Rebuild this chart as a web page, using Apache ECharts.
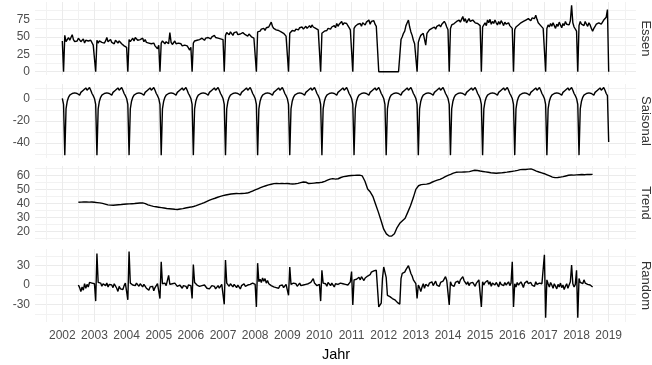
<!DOCTYPE html>
<html>
<head>
<meta charset="utf-8">
<script src="https://cdn.jsdelivr.net/npm/echarts@6/dist/echarts.min.js"></script>
<style>
  html, body { margin: 0; background: #fff; }
  #chart { width: 652px; height: 365px; }
</style>
</head>
<body>
<div id="chart"></div>
<script>
// panel (strip) names, top to bottom
const panelNames = ['Essen', 'Saisonal', 'Trend', 'Random']

// time grid of the series: 26 values per year, trend monthly
const halfMonthStep = 1 / 26
const monthStep = 1 / 12
const essenStart = 2002
const saisonalStart = 2002
const trendStart = 2002.5
const randomStart = 2002.5

// Essen, one row per year (26 values), last value = start of 2019
const essen = [
  44, 0, 52, 43, 46, 49, 45, 47, 53, 46, 43, 45, 44, 48, 49, 43, 45, 47, 41, 45, 47, 44, 42, 45, 43, 38,
  40, 0, 45, 41, 44, 46, 42, 43, 41, 44, 49, 43, 41, 46, 42, 44, 40, 45, 43, 41, 44, 42, 40, 38, 37, 36,
  35, 0, 46, 43, 45, 48, 44, 49, 47, 45, 43, 46, 44, 48, 43, 46, 42, 44, 41, 43, 40, 38, 41, 37, 39, 33,
  38, 0, 41, 44, 42, 40, 43, 41, 40, 56, 42, 39, 41, 44, 40, 38, 41, 39, 40, 37, 39, 38, 36, 37, 34, 31,
  35, 0, 41, 44, 42, 45, 43, 46, 44, 48, 47, 45, 48, 46, 49, 51, 47, 50, 48, 52, 49, 51, 48, 50, 47, 48,
  46, 0, 52, 56, 54, 53, 57, 55, 52, 56, 54, 57, 53, 55, 54, 52, 56, 54, 53, 55, 51, 54, 52, 50, 51, 48,
  47, 0, 57, 59, 58, 61, 60, 62, 59, 63, 61, 64, 66, 71, 65, 62, 64, 60, 62, 59, 61, 57, 58, 55, 54, 51,
  50, 0, 55, 57, 59, 60, 58, 61, 62, 60, 63, 62, 64, 61, 63, 65, 62, 64, 66, 63, 67, 64, 65, 62, 61, 60,
  58, 0, 55, 57, 58, 60, 59, 62, 63, 61, 64, 62, 66, 63, 69, 65, 68, 66, 72, 67, 70, 68, 69, 66, 63, 60,
  58, 0, 62, 65, 64, 68, 66, 69, 65, 70, 72, 67, 71, 69, 74, 68, 72, 70, 73, 68, 65, 64, 0, 0, 0, 0,
  0, 0, 0, 0, 0, 0, 0, 0, 0, 0, 0, 0, 0, 0, 46, 50, 55, 58, 66, 70, 74, 64, 57, 52, 45, 40,
  38, 0, 42, 48, 52, 50, 55, 53, 38, 55, 57, 60, 58, 62, 60, 64, 61, 65, 63, 67, 64, 68, 66, 72, 69, 64,
  60, 0, 62, 67, 65, 69, 67, 72, 70, 74, 71, 73, 79, 72, 76, 70, 73, 76, 72, 70, 74, 72, 70, 72, 69, 70,
  66, 0, 64, 67, 70, 66, 74, 70, 75, 68, 72, 69, 74, 70, 67, 72, 68, 73, 70, 66, 71, 68, 67, 70, 66, 64,
  62, 0, 60, 64, 62, 67, 65, 70, 68, 72, 70, 74, 72, 76, 74, 73, 77, 79, 76, 81, 75, 70, 72, 66, 64, 62,
  60, 0, 62, 67, 64, 69, 65, 70, 66, 62, 68, 65, 71, 67, 63, 69, 66, 72, 68, 70, 67, 73, 95, 70, 64, 62,
  58, 0, 66, 72, 68, 70, 66, 72, 68, 65, 70, 67, 62, 58, 62, 65, 68, 66, 70, 72, 68, 71, 74, 72, 78, 89,
  0
]

// Saisonal (periodic component), one row per year
const saisonal = [
  0.5, -5, -51, -9, -2, 1.5, 3.5, 4, 5, 4.5, 5.5, 4.5, 5, 4, 3.5, 6, 7.5, 8, 9.5, 10, 8, 8.5, 10.5, 8, 5, 3,
  0.5, -5, -51, -9, -2, 1.5, 3.5, 4, 5, 4.5, 5.5, 4.5, 5, 4, 3.5, 6, 7.5, 8, 9.5, 10, 8, 8.5, 10.5, 8, 5, 3,
  0.5, -5, -51, -9, -2, 1.5, 3.5, 4, 5, 4.5, 5.5, 4.5, 5, 4, 3.5, 6, 7.5, 8, 9.5, 10, 8, 8.5, 10.5, 8, 5, 3,
  0.5, -5, -51, -9, -2, 1.5, 3.5, 4, 5, 4.5, 5.5, 4.5, 5, 4, 3.5, 6, 7.5, 8, 9.5, 10, 8, 8.5, 10.5, 8, 5, 3,
  0.5, -5, -51, -9, -2, 1.5, 3.5, 4, 5, 4.5, 5.5, 4.5, 5, 4, 3.5, 6, 7.5, 8, 9.5, 10, 8, 8.5, 10.5, 8, 5, 3,
  0.5, -5, -51, -9, -2, 1.5, 3.5, 4, 5, 4.5, 5.5, 4.5, 5, 4, 3.5, 6, 7.5, 8, 9.5, 10, 8, 8.5, 10.5, 8, 5, 3,
  0.5, -5, -51, -9, -2, 1.5, 3.5, 4, 5, 4.5, 5.5, 4.5, 5, 4, 3.5, 6, 7.5, 8, 9.5, 10, 8, 8.5, 10.5, 8, 5, 3,
  0.5, -5, -51, -9, -2, 1.5, 3.5, 4, 5, 4.5, 5.5, 4.5, 5, 4, 3.5, 6, 7.5, 8, 9.5, 10, 8, 8.5, 10.5, 8, 5, 3,
  0.5, -5, -51, -9, -2, 1.5, 3.5, 4, 5, 4.5, 5.5, 4.5, 5, 4, 3.5, 6, 7.5, 8, 9.5, 10, 8, 8.5, 10.5, 8, 5, 3,
  0.5, -5, -51, -9, -2, 1.5, 3.5, 4, 5, 4.5, 5.5, 4.5, 5, 4, 3.5, 6, 7.5, 8, 9.5, 10, 8, 8.5, 10.5, 8, 5, 3,
  0.5, -5, -51, -9, -2, 1.5, 3.5, 4, 5, 4.5, 5.5, 4.5, 5, 4, 3.5, 6, 7.5, 8, 9.5, 10, 8, 8.5, 10.5, 8, 5, 3,
  0.5, -5, -51, -9, -2, 1.5, 3.5, 4, 5, 4.5, 5.5, 4.5, 5, 4, 3.5, 6, 7.5, 8, 9.5, 10, 8, 8.5, 10.5, 8, 5, 3,
  0.5, -5, -51, -9, -2, 1.5, 3.5, 4, 5, 4.5, 5.5, 4.5, 5, 4, 3.5, 6, 7.5, 8, 9.5, 10, 8, 8.5, 10.5, 8, 5, 3,
  0.5, -5, -51, -9, -2, 1.5, 3.5, 4, 5, 4.5, 5.5, 4.5, 5, 4, 3.5, 6, 7.5, 8, 9.5, 10, 8, 8.5, 10.5, 8, 5, 3,
  0.5, -5, -51, -9, -2, 1.5, 3.5, 4, 5, 4.5, 5.5, 4.5, 5, 4, 3.5, 6, 7.5, 8, 9.5, 10, 8, 8.5, 10.5, 8, 5, 3,
  0.5, -5, -51, -9, -2, 1.5, 3.5, 4, 5, 4.5, 5.5, 4.5, 5, 4, 3.5, 6, 7.5, 8, 9.5, 10, 8, 8.5, 10.5, 8, 5, 3,
  0.5, -5, -51, -9, -2, 1.5, 3.5, 4, 5, 4.5, 5.5, 4.5, 5, 4, 3.5, 6, 7.5, 8, 9.5, 10, 8, 8.5, 10.5, 8, 5, 3,
  -39
]

// Trend, monthly from mid 2002, one row per 12 months
const trend = [
  41.0, 41.1, 41.2, 41.2, 41.1, 41.2, 41.0, 40.8, 40.6, 40.2, 39.7, 39.2,
  39.0, 38.9, 39.1, 39.3, 39.4, 39.6, 39.8, 39.9, 40.0, 40.1, 40.3, 40.5,
  40.6, 40.1, 39.2, 38.6, 38.1, 37.8, 37.5, 37.2, 36.9, 36.6, 36.4, 36.2,
  36.0, 35.9, 36.2, 36.5, 36.9, 37.3, 37.6, 38.0, 38.6, 39.3, 40.0, 40.8,
  41.7, 42.6, 43.3, 43.9, 44.6, 45.2, 45.8, 46.2, 46.6, 46.9, 47.1, 47.3,
  47.2, 47.3, 47.4, 47.6, 48.2, 49.0, 49.8, 50.6, 51.4, 52.2, 52.8, 53.4,
  53.9, 54.3, 54.4, 54.3, 54.4, 54.3, 54.4, 54.2, 54.1, 54.2, 54.5, 55.0,
  55.5, 55.3, 54.4, 54.5, 54.7, 54.9, 55.0, 55.3, 55.9, 56.8, 57.5, 57.9,
  57.5, 57.8, 58.7, 59.3, 59.6, 59.9, 60.1, 60.2, 60.3, 60.4, 59.8, 56.0,
  50.5, 48.3, 45.0, 39.5, 34.0, 28.0, 21.8, 18.5, 17.0, 16.9, 18.5, 23.0,
  26.0, 27.8, 29.6, 34.0, 38.5, 44.0, 50.2, 52.8, 53.6, 53.8, 54.0, 54.4,
  55.3, 56.1, 56.8, 57.4, 58.3, 59.3, 60.2, 60.9, 61.8, 62.4, 62.5, 62.5,
  62.6, 62.7, 62.9, 63.4, 63.9, 63.7, 63.3, 63.0, 62.7, 62.4, 62.1, 61.9,
  61.7, 61.9, 62.0, 62.3, 62.5, 62.8, 63.1, 63.4, 63.8, 64.3, 64.5, 64.4,
  64.7, 64.8, 64.1, 63.3, 62.6, 62.0, 61.4, 60.6, 59.8, 59.0, 58.6, 58.7,
  59.0, 59.3, 59.8, 60.3, 60.5, 60.4, 60.6, 60.7, 60.8, 60.7, 60.9, 60.8,
  60.9
]

// Random (remainder), from mid 2002; first row is the second half of 2002
const random = [
  0, -4, -10, -3, -8, 2, -5, 1, -3, 4, 6, 3, 5,
  2, -25, 49, 4, 1, 3, -2, 2, 0, -1, 3, -3, 1, -2, 0, -4, 2, -1, -5, -10, -2, -6, -3, -7, -1, 3,
  1, -23, 52, 3, 2, 0, 2, -1, 3, 1, -2, 2, 0, -3, 1, -1, -5, -2, -8, -3, -6, -2, -9, -4, -1, 2,
  0, -21, 36, 2, 0, 3, -1, 2, 15, 1, 0, 2, -1, 3, 0, -2, -4, 0, -3, -5, -1, -4, -2, -6, 0, 3,
  -1, -21, 32, 4, 2, 0, 3, -2, 1, -1, -4, 0, -3, -5, -2, -6, -3, -1, -4, -2, -6, -3, -1, -5, -2, 1,
  -2, -30, 39, 3, 1, -2, 2, 0, -3, 1, -1, -4, 0, -2, -6, -1, -3, 2, -2, -5, 0, -3, 1, -2, 3, 2,
  1, -34, 34, 5, 9, 4, 11, 6, 10, 3, 7, 2, 4, -1, 2, -3, 0, -4, -2, -5, -1, -3, 0, -4, -2, 1,
  0, -16, 28, 1, -1, 3, 0, 2, -2, 1, 3, -1, 2, 0, -3, 1, -2, 2, 0, 4, 6, 10, 3, 1, -1, 2,
  1, -25, 23, 3, 0, 2, -2, 4, 1, -1, 3, 0, -3, 2, -1, 1, -2, 3, 0, 2, -1, 1, 4, 0, 2, 5,
  21, -31, 8, 5, 9, 6, 12, 8, 13, 10, 7, 11, 9, 14, 12, 16, 20, 18, 22, 19, 23, 20, -34, -31, -28, 10,
  28, 31, 12, -16, -17, -18, -19, -21, -22, -23, -25, -27, -28, -30, 10, 18, 15, 20, 24, 27, 30, 24, 18, 14, 8, 5,
  2, -21, 0, -4, -10, -3, 2, -5, 1, 4, -2, 3, 0, 5, -1, 2, 6, 0, 3, -2, 4, 1, 6, 3, 13, 7,
  6, -31, 5, 0, 3, -2, 4, 1, 6, 2, 8, 5, 13, 7, 4, 1, 5, -1, 3, 0, 4, 2, -2, 3, 1, 8,
  8, -34, 5, 0, 4, 2, 7, 1, 5, -2, 3, 6, 0, 4, 2, -3, 5, 1, 3, -1, 4, 0, 2, 5, -1, 3,
  36, -34, 2, -3, 4, 0, -2, 5, 1, -4, 3, 0, 6, 2, -1, 4, 0, 3, -2, 5, 1, -1, 3, 6, 2, 4,
  47, -51, 8, 2, -3, 4, 0, -5, 2, -2, -6, 1, -3, 3, -4, 0, -7, -2, 2, -5, 0, 5, 31, 2, -3, 1,
  23, -51, 10, 4, 6, 2, 8, 3, 6, 1, 4, 0, 2, -3
]

// value axis ranges of the panels and their tick spacing
const panelMin = [-4.7, -53.6, 14.1, -57.5]
const panelMax = [99.8, 13.6, 66.9, 56]
const panelTickStep = [25, 20, 10, 30]

function toPairs(start, step, values) {
  return values.map((v, i) => [start + i * step, v])
}

const seriesData = [
  toPairs(essenStart, halfMonthStep, essen),
  toPairs(saisonalStart, halfMonthStep, saisonal),
  toPairs(trendStart, monthStep, trend),
  toPairs(randomStart, halfMonthStep, random)
]

const font = "'Liberation Sans', Arial, sans-serif"
const gridColor = '#EBEBEB'
const minorColor = '#F2F2F2'
const panelTop = [2, 84, 166, 249]
const panelHeight = [73, 74, 74, 73]

const chart = echarts.init(document.getElementById('chart'), null, { renderer: 'canvas' })

const option = {
  animation: false,
  backgroundColor: '#fff',
  grid: panelNames.map((n, i) => ({
    left: 35, width: 601, top: panelTop[i], height: panelHeight[i]
  })),
  xAxis: panelNames.map((n, i) => ({
    type: 'value',
    gridIndex: i,
    min: 2001.15,
    max: 2019.85,
    splitNumber: 18,
    minInterval: 1,
    maxInterval: 1,
    axisLine: { show: false },
    axisTick: { show: false },
    axisLabel: {
      show: i === 3,
      margin: 8,
      color: '#4D4D4D',
      fontSize: 12,
      fontFamily: font,
      formatter: v => (Number.isInteger(v) ? String(v) : '')
    },
    splitLine: { show: true, showMinLine: false, showMaxLine: false, lineStyle: { color: gridColor, width: 1 } },
    minorTick: { show: false, splitNumber: 2 },
    minorSplitLine: { show: true, lineStyle: { color: minorColor, width: 1 } }
  })),
  yAxis: panelNames.map((n, i) => ({
    type: 'value',
    gridIndex: i,
    min: panelMin[i],
    max: panelMax[i],
    minInterval: panelTickStep[i],
    maxInterval: panelTickStep[i],
    axisLine: { show: false },
    axisTick: { show: false },
    axisLabel: {
      margin: 5,
      color: '#4D4D4D',
      fontSize: 12,
      fontFamily: font,
      formatter: v => (Math.abs(v / panelTickStep[i] - Math.round(v / panelTickStep[i])) < 1e-6 ? String(Math.round(v)) : '')
    },
    splitLine: { show: true, showMinLine: false, showMaxLine: false, lineStyle: { color: gridColor, width: 1 } },
    minorTick: { show: false, splitNumber: 2 },
    minorSplitLine: { show: true, lineStyle: { color: minorColor, width: 1 } }
  })),
  series: panelNames.map((n, i) => ({
    name: n,
    type: 'line',
    xAxisIndex: i,
    yAxisIndex: i,
    data: seriesData[i],
    showSymbol: false,
    symbol: 'none',
    clip: false,
    lineStyle: { color: '#000', width: 1.4 }
  })),
  graphic: panelNames.map((n, i) => ({
    type: 'text',
    x: 646,
    y: panelTop[i] + panelHeight[i] / 2,
    rotation: -Math.PI / 2,
    style: {
      text: n,
      fill: '#333333',
      font: '13px ' + font,
      align: 'center',
      verticalAlign: 'middle'
    }
  })).concat([{
    type: 'text',
    x: 336,
    y: 355,
    style: {
      text: 'Jahr',
      fill: '#000',
      font: '14.5px ' + font,
      align: 'center',
      verticalAlign: 'middle'
    }
  }])
}

chart.setOption(option)
</script>
</body>
</html>
